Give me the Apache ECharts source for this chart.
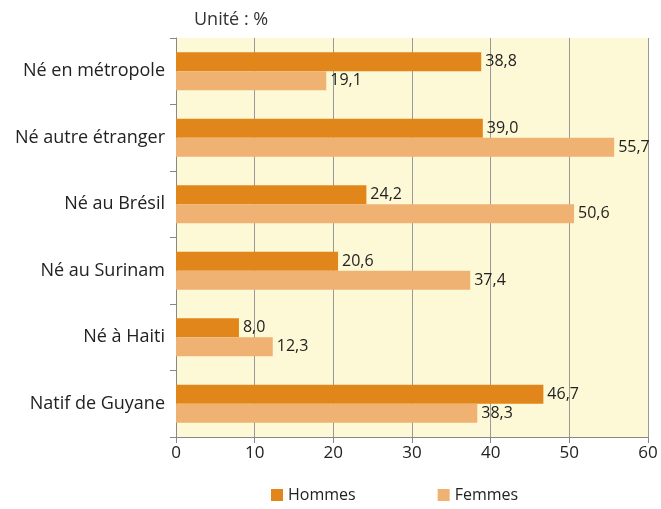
<!DOCTYPE html>
<html>
<head>
<meta charset="utf-8">
<script src="https://cdn.jsdelivr.net/npm/echarts@6/dist/echarts.min.js"></script>
<style>
  html, body { margin: 0; padding: 0; background: #ffffff; }
  #chart { width: 661px; height: 509px; }
</style>
</head>
<body>
<div id="chart"></div>
<script>
// categories listed bottom to top (category axis starts at the bottom)
var categories = ["Natif de Guyane", "Né à Haiti", "Né au Surinam", "Né au Brésil", "Né autre étranger", "Né en métropole"];
var hommes = [46.7, 8.0, 20.6, 24.2, 39.0, 38.8];
var femmes = [38.3, 12.3, 37.4, 50.6, 55.7, 19.1];
var xTicks = [0, 10, 20, 30, 40, 50, 60];

var font = "Open Sans";
var fmt = function (p) { return p.value.toFixed(1).replace(".", ","); };

var chart = echarts.init(document.getElementById("chart"));
chart.setOption({
  animation: false,
  textStyle: { fontFamily: font },
  graphic: [{
    type: "text",
    left: 194,
    top: 11,
    style: { text: "Unité : %", font: "18px " + font, fill: "#333" }
  }],
  legend: {
    bottom: 1,
    left: 266,
    itemGap: 82,
    itemWidth: 12,
    itemHeight: 12,
    icon: "rect",
    textStyle: { fontSize: 16, color: "#222" },
    data: ["Hommes", "Femmes"]
  },
  grid: { left: 176, right: 13, top: 38, bottom: 72, backgroundColor: "#fdf8d6", show: true, borderWidth: 0 },
  xAxis: {
    type: "value",
    min: xTicks[0],
    max: xTicks[xTicks.length - 1],
    interval: 10,
    axisLine: { show: true, lineStyle: { color: "#888" } },
    axisTick: { show: true, length: 6, lineStyle: { color: "#888" } },
    axisLabel: { fontSize: 17, color: "#222", margin: 8 },
    splitLine: { lineStyle: { color: "#999", width: 1 } }
  },
  yAxis: {
    type: "category",
    data: categories,
    axisLine: { show: true, lineStyle: { color: "#888" } },
    axisTick: { show: true, length: 6, lineStyle: { color: "#888" } },
    axisLabel: { fontSize: 18, color: "#222", margin: 11 }
  },
  series: [
    {
      name: "Hommes",
      type: "bar",
      data: hommes,
      barWidth: 19,
      barGap: "0%",
      barCategoryGap: "43%",
      itemStyle: { color: "#e0861a" },
      label: { show: true, position: "right", distance: 4, fontSize: 16, color: "#222", formatter: fmt }
    },
    {
      name: "Femmes",
      type: "bar",
      data: femmes,
      barWidth: 19,
      itemStyle: { color: "#f0b273" },
      label: { show: true, position: "right", distance: 4, fontSize: 16, color: "#222", formatter: fmt }
    }
  ]
});
</script>
</body>
</html>
